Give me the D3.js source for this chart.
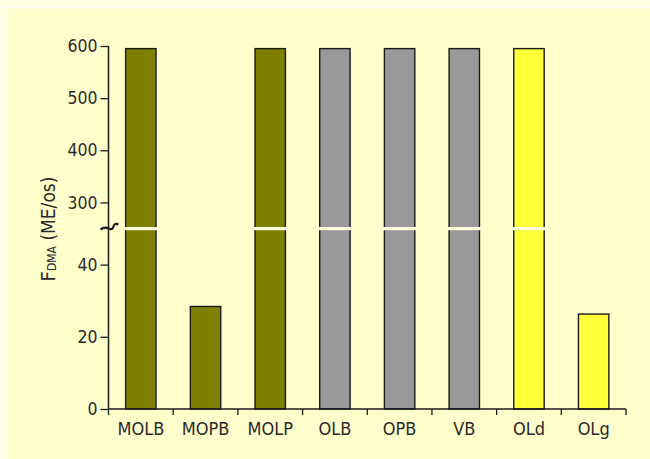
<!DOCTYPE html>
<html><head><meta charset="utf-8">
<script src="https://cdn.jsdelivr.net/npm/d3@7"></script>
<style>
html,body{margin:0;padding:0;background:#FFFFE4;}
svg{display:block;}
text{font-family:"DejaVu Sans Condensed","DejaVu Sans",sans-serif;fill:#2a2a2a;}
</style></head>
<body>
<script>
const categories = ["MOLB","MOPB","MOLP","OLB","OPB","VB","OLd","OLg"];
const values = [595, 28.4, 595, 595, 595, 595, 595, 26.3];
const groups = ["MO","MO","MO","O","O","O","OL","OL"];
const lowerTicks = [0, 20, 40];
const upperTicks = [300, 400, 500, 600];
const groupColors = {MO:"#808000", O:"#999999", OL:"#FFFF3A"};

const W = 650, H = 459;
const svg = d3.select("body").append("svg").attr("width", W).attr("height", H);

// panel
svg.append("rect").attr("x",0).attr("y",0).attr("width",W).attr("height",H).attr("fill","#FFFFE4");
svg.append("rect").attr("x",5.5).attr("y",7.5).attr("width",W).attr("height",H).attr("fill","#FFFFCC")
  .attr("stroke","#FFFFFF").attr("stroke-width",1.5);

const x0 = 108.5, x1 = 626, yBase = 409, yBreak = 228.5, yTop = 46;
const x = d3.scaleBand().domain(categories).range([x0, x1]).padding(0);
const yLow = d3.scaleLinear().domain([0, 50]).range([yBase, yBreak]);
const yUp = d3.scaleLinear().domain([250, 600]).range([yBreak, yTop]);
const yv = v => v <= 50 ? yLow(v) : yUp(v);

const barW = x.bandwidth() * 0.47;

// bars
svg.append("g").selectAll("rect").data(categories).join("rect")
  .attr("x", (c) => x(c) + (x.bandwidth() - barW) / 2)
  .attr("y", (c, i) => yv(values[i]))
  .attr("width", barW)
  .attr("height", (c, i) => yBase - yv(values[i]))
  .attr("fill", (c, i) => groupColors[groups[i]])
  .attr("stroke", "#1a1a1a").attr("stroke-width", 1.4);

// break stripes across tall bars
svg.append("g").selectAll("rect").data(categories.filter((c, i) => values[i] > 50)).join("rect")
  .attr("x", c => x(c) + (x.bandwidth() - barW) / 2 - 2)
  .attr("y", yBreak - 1.5)
  .attr("width", barW + 4)
  .attr("height", 3.2)
  .attr("fill", "#FFFFDD");

// y axes
const gUp = svg.append("g").attr("transform", `translate(${x0},0)`)
  .call(d3.axisLeft(yUp).tickValues(upperTicks).tickSize(8).tickPadding(3).tickFormat(d3.format("d")));
const gLow = svg.append("g").attr("transform", `translate(${x0},0)`)
  .call(d3.axisLeft(yLow).tickValues(lowerTicks).tickSize(8).tickPadding(3).tickFormat(d3.format("d")));
[gUp, gLow].forEach(g => {
  g.select(".domain").remove();
  g.selectAll(".tick line").attr("stroke", "#1a1a1a").attr("stroke-width", 1.3);
  g.selectAll(".tick text").attr("font-size", 17.5).attr("font-family", '"DejaVu Sans Condensed","DejaVu Sans",sans-serif').attr("fill", "#2a2a2a");
});
svg.append("line").attr("x1", x0).attr("x2", x0).attr("y1", yTop).attr("y2", yBase)
  .attr("stroke", "#1a1a1a").attr("stroke-width", 1.5);

// break squiggle
svg.append("path")
  .attr("d", `M${x0-8},${yBreak+1} Q${x0-4},${yBreak-2} ${x0},${yBreak} Q${x0+4},${yBreak+2} ${x0+5},${yBreak-2} Q${x0+6},${yBreak-6} ${x0+10},${yBreak-4}`)
  .attr("fill", "none").attr("stroke", "#1a1a1a").attr("stroke-width", 2.2);

// x axis
const gx = svg.append("g").attr("transform", `translate(0,${yBase})`);
gx.append("line").attr("x1", x0).attr("x2", x1).attr("y1", 0).attr("y2", 0)
  .attr("stroke", "#1a1a1a").attr("stroke-width", 1.5);
const bounds = categories.map(c => x(c)).concat([x1]);
gx.selectAll("line.tk").data(bounds).join("line").attr("class", "tk")
  .attr("x1", d => d).attr("x2", d => d).attr("y1", 0).attr("y2", 6)
  .attr("stroke", "#1a1a1a").attr("stroke-width", 1.3);
gx.selectAll("text").data(categories).join("text")
  .attr("x", c => x(c) + x.bandwidth() / 2)
  .attr("y", 26)
  .attr("text-anchor", "middle")
  .attr("font-size", 18)
  .text(c => c);

// y label
const lab = svg.append("text")
  .attr("transform", `translate(55,229) rotate(-90)`)
  .attr("text-anchor", "middle")
  .attr("font-size", 20);
lab.append("tspan").text("F");
lab.append("tspan").attr("font-size", 12).attr("dy", 1).text("DMA");
lab.append("tspan").attr("font-size", 19).attr("dy", -1).text(" (ME/os)");
</script>
</body></html>
